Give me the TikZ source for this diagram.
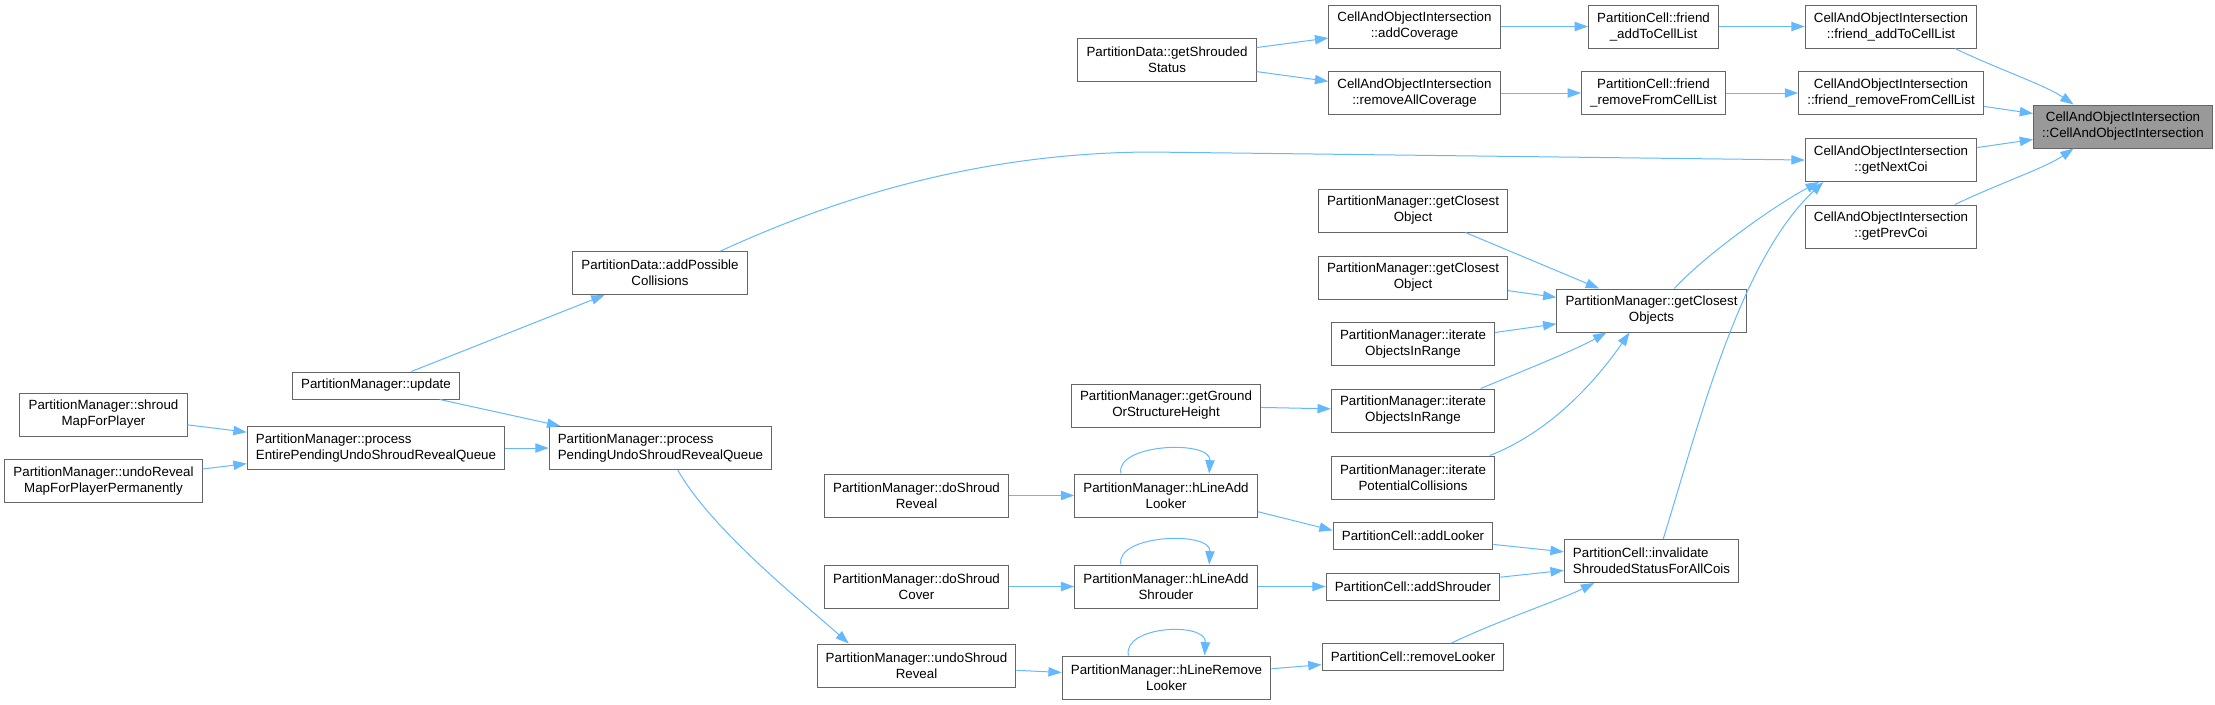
\documentclass[tikz,border=0pt]{standalone}
\usepackage{fontspec}
\setmainfont{Liberation Sans}
\usetikzlibrary{arrows.meta}
\definecolor{edgeblue}{HTML}{63B8FF}
\definecolor{boxgray}{HTML}{666666}
\definecolor{hlgray}{HTML}{999999}
\tikzset{
  fn/.style={draw=boxgray, line width=0.75pt, fill=white, font=\fontsize{10}{12}\selectfont,
    align=center, inner xsep=6.5pt, inner ysep=2pt, minimum height=20.25pt},
  fn2/.style={fn, minimum height=32.25pt},
  fnl/.style={fn2, align=left},
  edge/.style={draw=edgeblue, line width=0.75pt, -{Triangle[length=10pt,width=7pt]}},
}
\begin{document}
\begin{tikzpicture}[x=0.75pt,y=-0.75pt]
\useasboundingbox (0,0) rectangle (2215,704);
% target and its direct callers
\node[fn2, fill=hlgray] (tgt) at (2123,126.5) {CellAndObjectIntersection\\::CellAndObjectIntersection};
\node[fn2] (faddC) at (1891,26.5) {CellAndObjectIntersection\\::friend\_addToCellList};
\node[fn2] (fremC) at (1891,93) {CellAndObjectIntersection\\::friend\_removeFromCellList};
\node[fn2] (next) at (1891,160) {CellAndObjectIntersection\\::getNextCoi};
\node[fn2] (prev) at (1891,226.5) {CellAndObjectIntersection\\::getPrevCoi};
% coverage chain
\node[fn2] (pcadd) at (1653.5,26.5) {PartitionCell::friend\\\_addToCellList};
\node[fn2] (pcrem) at (1653.5,93) {PartitionCell::friend\\\_removeFromCellList};
\node[fn2] (addcov) at (1414.5,26.5) {CellAndObjectIntersection\\::addCoverage};
\node[fn2] (remcov) at (1414.5,93) {CellAndObjectIntersection\\::removeAllCoverage};
\node[fn2] (shrouded) at (1167,59.5) {PartitionData::getShrouded\\Status};
% closest objects
\node[fn2] (closests) at (1651.5,310.5) {PartitionManager::getClosest\\Objects};
\node[fn2] (closest1) at (1413,210.5) {PartitionManager::getClosest\\Object};
\node[fn2] (closest2) at (1413,277.5) {PartitionManager::getClosest\\Object};
\node[fn2] (iter1) at (1413,344) {PartitionManager::iterate\\ObjectsInRange};
\node[fn2] (iter2) at (1413,410.5) {PartitionManager::iterate\\ObjectsInRange};
\node[fn2] (iterpot) at (1413,477.5) {PartitionManager::iterate\\PotentialCollisions};
\node[fn2] (ground) at (1166,405.5) {PartitionManager::getGround\\OrStructureHeight};
% lookers and shrouders
\node[fnl] (inval) at (1651.5,561) {PartitionCell::invalidate\\ShroudedStatusForAllCois};
\node[fn] (pcal) at (1413,536) {PartitionCell::addLooker};
\node[fn] (pcas) at (1413,586.5) {PartitionCell::addShrouder};
\node[fn] (pcrl) at (1413,657) {PartitionCell::removeLooker};
\node[fn2] (hal) at (1166,495.5) {PartitionManager::hLineAdd\\Looker};
\node[fn2] (has) at (1166,586.5) {PartitionManager::hLineAdd\\Shrouder};
\node[fn2] (hrl) at (1166.5,677.5) {PartitionManager::hLineRemove\\Looker};
\node[fn2] (doreveal) at (916.5,495.5) {PartitionManager::doShroud\\Reveal};
\node[fn2] (docover) at (916.5,586.5) {PartitionManager::doShroud\\Cover};
\node[fn2] (undoreveal) at (916.5,665.5) {PartitionManager::undoShroud\\Reveal};
% update side
\node[fn2] (addposs) at (660,273) {PartitionData::addPossible\\Collisions};
\node[fn] (update) at (376,385.5) {PartitionManager::update};
\node[fnl] (pending) at (660.5,448) {PartitionManager::process\\PendingUndoShroudRevealQueue};
\node[fnl] (entire) at (376,448) {PartitionManager::process\\EntirePendingUndoShroudRevealQueue};
\node[fn2] (shroudmap) at (103.5,414.5) {PartitionManager::shroud\\MapForPlayer};
\node[fn2] (undomap) at (103.5,481) {PartitionManager::undoReveal\\MapForPlayerPermanently};
% edges into target
\draw[edge] (faddC.-19) .. controls (2000,70) and (2045,85) .. (tgt.156);
\draw[edge] (fremC) -- (tgt);
\draw[edge] (next) -- (tgt);
\draw[edge] (prev.19) .. controls (2000,183) and (2045,168) .. (tgt.204);
% coverage chain
\draw[edge] (shrouded) -- (addcov);
\draw[edge] (shrouded) -- (remcov);
\draw[edge] (addcov) -- (pcadd);
\draw[edge] (pcadd) -- (faddC);
\draw[edge] (remcov) -- (pcrem);
\draw[edge] (pcrem) -- (fremC);
% callers of getNextCoi
\draw[edge] (addposs.20) .. controls (800,215) and (950,153) .. (1150,152) -- (next.west);
\draw[edge] (closests.44) .. controls (1705,255) and (1775,205) .. (next.197);
\draw[edge] (inval.62) .. controls (1700,420) and (1740,260) .. (next.198);
% callers of getClosestObjects
\draw[edge] (closest1) -- (closests);
\draw[edge] (closest2) -- (closests);
\draw[edge] (iter1) -- (closests);
\draw[edge] (iter2.18) .. controls (1530,368) and (1575,350) .. (closests.206);
\draw[edge] (iterpot.16) .. controls (1555,430) and (1600,375) .. (closests.225);
\draw[edge] (ground) -- (iter2);
% lookers and shrouders
\draw[edge] (doreveal) -- (hal);
\draw[edge] (docover) -- (has);
\draw[edge] (undoreveal) -- (hrl);
\draw[edge] (hal.154) .. controls +(-6,-30) and +(2,-34) .. (hal.27);
\draw[edge] (has.154) .. controls +(-6,-30) and +(2,-34) .. (has.27);
\draw[edge] (hrl.150) .. controls +(-6,-30) and +(2,-34) .. (hrl.30);
\draw[edge] (hal.-10) -- (pcal.176);
\draw[edge] (has) -- (pcas);
\draw[edge] (hrl) -- (pcrl);
\draw[edge] (pcal) -- (inval);
\draw[edge] (pcas) -- (inval);
\draw[edge] (pcrl.20) .. controls (1500,620) and (1560,600) .. (inval.201);
% update side
\draw[edge] (update) -- (addposs);
\draw[edge] (update) -- (pending);
\draw[edge] (shroudmap) -- (entire);
\draw[edge] (undomap) -- (entire);
\draw[edge] (entire) -- (pending);
\draw[edge] (pending.-52) .. controls (712,530) and (800,600) .. (undoreveal.162);
\end{tikzpicture}
\end{document}
